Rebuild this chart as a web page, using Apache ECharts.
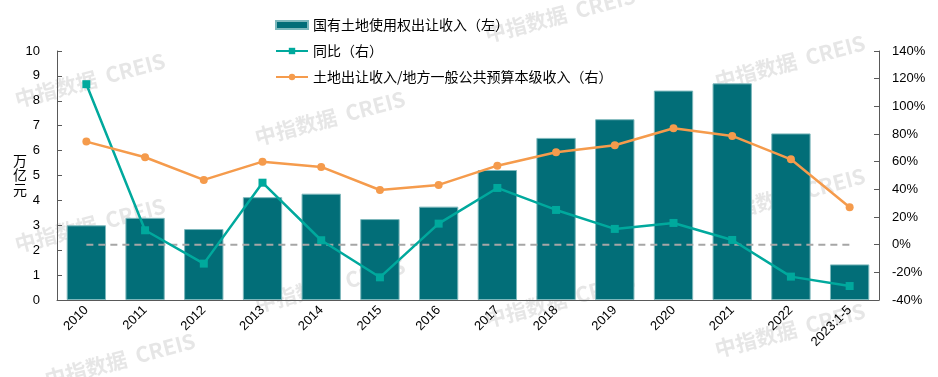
<!DOCTYPE html>
<html>
<head>
<meta charset="utf-8">
<script src="https://cdn.jsdelivr.net/npm/echarts@6/dist/echarts.min.js"></script>
<style>
html, body { margin: 0; padding: 0; background: #fff; }
#main { width: 938px; height: 377px; }
</style>
</head>
<body>
<div id="main"></div>
<script>
// 年份
var years = ['2010', '2011', '2012', '2013', '2014', '2015', '2016', '2017', '2018', '2019', '2020', '2021', '2022', '2023:1-5'];
// 国有土地使用权出让收入（万亿元）
var landIncome = [3.0, 3.3, 2.85, 4.13, 4.27, 3.25, 3.75, 5.22, 6.51, 7.26, 8.41, 8.70, 6.69, 1.43];
// 同比（%）
var yoy = [116, 10.4, -13.7, 44.8, 3.2, -23.6, 15.2, 41, 25.1, 11.4, 15.7, 3.4, -23.1, -29.9];
// 土地出让收入/地方一般公共预算本级收入（%）
var ratio = [74.5, 63.2, 46.8, 60, 56.2, 39.5, 43.2, 57.1, 66.8, 71.9, 84.2, 78.6, 61.7, 27];
// 0% 参考线
var zeroLine = [0, 0, 0, 0, 0, 0, 0, 0, 0, 0, 0, 0, 0, 0];

var BAR_NAME = '国有土地使用权出让收入（左）';
var YOY_NAME = '同比（右）';
var RATIO_NAME = '土地出让收入/地方一般公共预算本级收入（右）';

var FONT = '"Liberation Sans", Arial, "Noto Sans CJK SC", sans-serif';

// 水印
var marks = [
	[90, 80], [560, 15], [790, 62], [330, 118], [90, 225],
	[330, 285], [120, 360], [790, 330], [790, 195], [560, 300]
];
var graphics = [];
marks.forEach(function(p) {
	graphics.push({
		type: 'text',
		x: p[0], y: p[1],
		rotation: 0.26,
		silent: true,
		z: -1,
		style: {
			text: '中指数据  CREIS',
			font: 'bold 21px "Noto Sans CJK SC", sans-serif',
			fill: 'rgba(200,200,200,0.45)',
			align: 'center',
			verticalAlign: 'middle'
		}
	});
});
graphics.push({
	type: 'text',
	left: 13, top: 153,
	style: {
		text: '万\n亿\n元',
		font: '14px "Noto Sans CJK SC", sans-serif',
		lineHeight: 14.5,
		fill: '#000'
	}
});

var chart = echarts.init(document.getElementById('main'));

chart.setOption({
	animation: false,
	textStyle: { fontFamily: FONT },
	graphic: graphics,
	grid: {
		left: 57,
		right: 59,
		top: 51,
		bottom: 77
	},
	legend: {
		orient: 'vertical',
		left: 270,
		top: 13,
		itemGap: 12,
		itemWidth: 32,
		itemHeight: 8,
		textStyle: {
			fontFamily: '"Noto Sans CJK SC", sans-serif',
			fontSize: 14,
			color: '#000'
		},
		data: [
			{ name: BAR_NAME, icon: 'rect' },
			{ name: YOY_NAME },
			{ name: RATIO_NAME }
		]
	},
	xAxis: {
		type: 'category',
		data: years,
		axisLine: { lineStyle: { color: '#595959', width: 1 } },
		axisTick: { show: false },
		axisLabel: {
			rotate: 45,
			fontSize: 13,
			color: '#000',
			margin: 8,
			interval: 0
		}
	},
	yAxis: [{
		type: 'value',
		min: 0,
		max: 10,
		interval: 1,
		splitLine: { show: false },
		axisLine: { show: true, lineStyle: { color: '#595959' } },
		axisTick: { show: true, inside: true, length: 5, lineStyle: { color: '#595959' } },
		axisLabel: { fontSize: 13, color: '#000', margin: 17 }
	}, {
		type: 'value',
		min: -40,
		max: 140,
		interval: 20,
		splitLine: { show: false },
		axisLine: { show: true, lineStyle: { color: '#595959' } },
		axisTick: { show: true, inside: true, length: 5, lineStyle: { color: '#595959' } },
		axisLabel: { fontSize: 13, color: '#000', margin: 13, formatter: '{value}%' }
	}],
	series: [{
		name: BAR_NAME,
		type: 'bar',
		data: landIncome,
		barCategoryGap: '33%',
		itemStyle: { color: '#026E78', borderColor: '#7DB8BC', borderWidth: 1 }
	}, {
		name: 'zero',
		type: 'line',
		yAxisIndex: 1,
		data: zeroLine,
		symbol: 'none',
		silent: true,
		lineStyle: { color: '#A6A6A6', width: 2, type: [7, 5] }
	}, {
		name: YOY_NAME,
		type: 'line',
		yAxisIndex: 1,
		data: yoy,
		symbol: 'rect',
		symbolSize: 8,
		itemStyle: { color: '#00A99D' },
		lineStyle: { color: '#00A99D', width: 2.5 }
	}, {
		name: RATIO_NAME,
		type: 'line',
		yAxisIndex: 1,
		data: ratio,
		symbol: 'circle',
		symbolSize: 8,
		itemStyle: { color: '#F59B4C' },
		lineStyle: { color: '#F59B4C', width: 2.5 }
	}]
});
</script>
</body>
</html>
